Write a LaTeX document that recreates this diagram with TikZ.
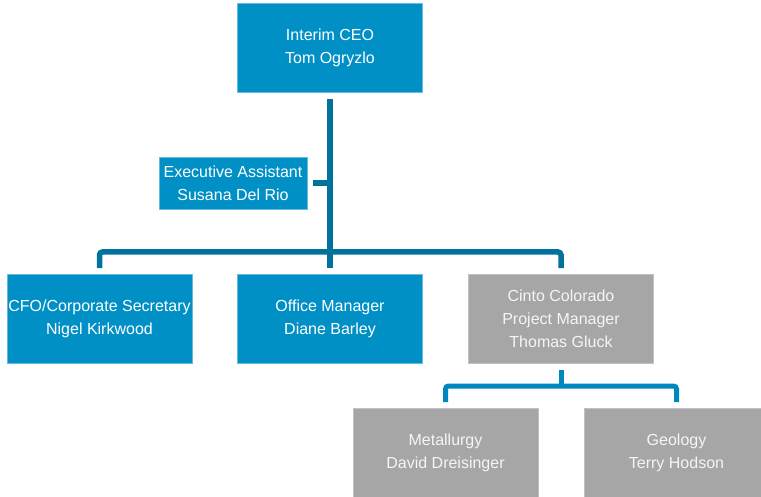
\documentclass[tikz,border=0pt]{standalone}
\usepackage{fontspec}
\setmainfont{Liberation Sans}
\usetikzlibrary{calc}
\definecolor{boxblue}{HTML}{0090C6}
\definecolor{boxgrey}{HTML}{A6A6A6}
\definecolor{lineone}{HTML}{00729C}
\definecolor{linetwo}{HTML}{0088BE}
\tikzset{
  orgbox/.style={rectangle, fill=boxblue, draw=boxblue!60!white, line width=0.6pt, text=white, align=center, inner sep=0pt,
    font=\fontsize{16}{23}\selectfont},
  bluebox/.style={orgbox, minimum width=185, minimum height=89},
  greybox/.style={orgbox, fill=boxgrey, draw=boxgrey!70!white, text=white!96!black, minimum width=185, minimum height=89},
  smallbox/.style={orgbox, minimum width=148, minimum height=52},
  levelone/.style={draw=lineone, line width=5.5pt, rounded corners=3pt},
  leveltwo/.style={draw=linetwo, line width=5pt, rounded corners=3pt}
}
\begin{document}
\begin{tikzpicture}[x=1pt, y=-1pt]
\useasboundingbox (0,0) rectangle (761,497);
\fill[white] (0,0) rectangle (761,497);
\node[bluebox, minimum height=89] (ceo) at (330,48) {Interim CEO\\Tom Ogryzlo};
\node[smallbox] (exec) at (233,183) {Executive Assistant\\Susana Del Rio};
\node[bluebox] (cfo) at (99.5,319) {CFO/Corporate Secretary\\Nigel Kirkwood};
\node[bluebox] (office) at (330,319) {Office Manager\\Diane Barley};
\node[greybox] (cinto) at (561,319) {Cinto Colorado\\Project Manager\\Thomas Gluck};
\node[greybox] (met) at (445.5,453) {Metallurgy\\David Dreisinger};
\node[greybox] (geo) at (676.5,453) {Geology\\Terry Hodson};
\coordinate (bus) at (330,252);
\coordinate (bustwo) at (561,386);
\draw[levelone] ($(ceo.south)+(0,6)$) -- ($(office.north)+(0,-6)$);
\draw[levelone] ($(cfo.north)+(0,-6)$) |- (bus) -| ($(cinto.north)+(0,-6)$);
\draw[levelone] ($(exec.east)+(6,0)$) -- (exec.east -| bus);
\draw[leveltwo] ($(cinto.south)+(0,6)$) -- (bustwo);
\draw[leveltwo] ($(met.north)+(0,-6)$) |- (bustwo) -| ($(geo.north)+(0,-6)$);
\end{tikzpicture}
\end{document}
